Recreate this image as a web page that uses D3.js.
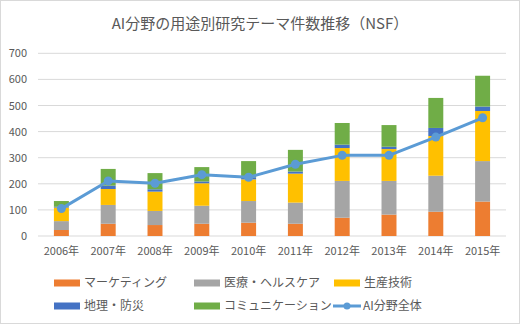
<!DOCTYPE html>
<html><head><meta charset="utf-8">
<script src="https://cdn.jsdelivr.net/npm/d3@7/dist/d3.min.js"></script>
<style>body{margin:0;background:#fff}svg{display:block}text{font-family:"Noto Sans CJK JP","Noto Sans",sans-serif;fill:#595959}</style>
</head><body><svg id="c" width="520" height="324"></svg>
<script>
const years = ["2006年","2007年","2008年","2009年","2010年","2011年","2012年","2013年","2014年","2015年"];
const marketing = [23,47,42,47,51,47,70,82,93,132];
const medical = [34,72,54,69,83,81,141,129,138,155];
const production = [52,61,74,86,83,111,126,122,152,192];
const geo = [3,13,9,7,8,8,13,9,31,17];
const comm = [22,64,62,55,62,83,83,83,115,118];
const aiTotal = [105,211,202,235,225,275,309,309,379,453];
const yTicks = [0,100,200,300,400,500,600,700];
const seriesNames = ["マーケティング","医療・ヘルスケア","生産技術","地理・防災","コミュニケーション"];
const lineName = "AI分野全体";
const colors = ["#ED7D31","#A5A5A5","#FFC000","#4472C4","#70AD47"];
const lineColor = "#5B9BD5";
const title = "AI分野の用途別研究テーマ件数推移（NSF）";

const svg = d3.select("#c");
svg.append("rect").attr("x",0.5).attr("y",0.5).attr("width",519).attr("height",323).attr("fill","#fff").attr("stroke","#D9D9D9");
svg.append("text").attr("x",260).attr("y",29).attr("text-anchor","middle").attr("font-size",15).text(title);

const x = d3.scaleBand().domain(years).range([38,506]).paddingInner(0.68).paddingOuter(0.34);
const y = d3.scaleLinear().domain([0,700]).range([236,53.3]);

svg.append("g").selectAll("line").data(yTicks).join("line")
  .attr("x1",38).attr("x2",506).attr("y1",d=>y(d)).attr("y2",d=>y(d))
  .attr("stroke","#D9D9D9").attr("stroke-width",1);

const yAxis = svg.append("g").attr("transform","translate(38,0)")
  .call(d3.axisLeft(y).tickValues(yTicks).tickSize(0).tickPadding(11));
yAxis.select(".domain").remove();
yAxis.selectAll("text").attr("font-size",11).style("font-family",'"Noto Sans CJK JP",sans-serif').attr("fill","#595959");

const xAxis = svg.append("g").attr("transform","translate(0,236)")
  .call(d3.axisBottom(x).tickSize(0).tickPadding(11));
xAxis.select(".domain").remove();
xAxis.selectAll("text").attr("font-size",11).style("font-family",'"Noto Sans CJK JP",sans-serif').attr("fill","#595959");

const table = years.map((yr,i)=>({year:yr, s0:marketing[i], s1:medical[i], s2:production[i], s3:geo[i], s4:comm[i]}));
const stack = d3.stack().keys(["s0","s1","s2","s3","s4"])(table);
svg.append("g").selectAll("g").data(stack).join("g").attr("fill",(d,i)=>colors[i])
  .selectAll("rect").data(d=>d).join("rect")
  .attr("x",d=>x(d.data.year)).attr("width",x.bandwidth())
  .attr("y",d=>y(d[1])).attr("height",d=>y(d[0])-y(d[1]));

const line = d3.line().x((d,i)=>x(years[i])+x.bandwidth()/2).y(d=>y(d));
svg.append("path").datum(aiTotal).attr("d",line).attr("fill","none").attr("stroke",lineColor).attr("stroke-width",3).attr("stroke-linejoin","round");
svg.append("g").selectAll("circle").data(aiTotal).join("circle")
  .attr("cx",(d,i)=>x(years[i])+x.bandwidth()/2).attr("cy",d=>y(d)).attr("r",4.5).attr("fill",lineColor);

// legend
const legPos = [[54,283],[194,283],[334,283],[54,306],[194,306]];
const leg = svg.append("g");
seriesNames.forEach((n,i)=>{
  const [lx,ly] = legPos[i];
  leg.append("rect").attr("x",lx).attr("y",ly-3.5).attr("width",26).attr("height",7).attr("fill",colors[i]);
  leg.append("text").attr("x",lx+30).attr("y",ly).attr("dy","0.35em").attr("font-size",12).text(n);
});
leg.append("line").attr("x1",333).attr("x2",361).attr("y1",306).attr("y2",306).attr("stroke",lineColor).attr("stroke-width",3);
leg.append("circle").attr("cx",347).attr("cy",306).attr("r",3.5).attr("fill",lineColor);
leg.append("text").attr("x",363).attr("y",306).attr("dy","0.35em").attr("font-size",12).text(lineName);
</script></body></html>
